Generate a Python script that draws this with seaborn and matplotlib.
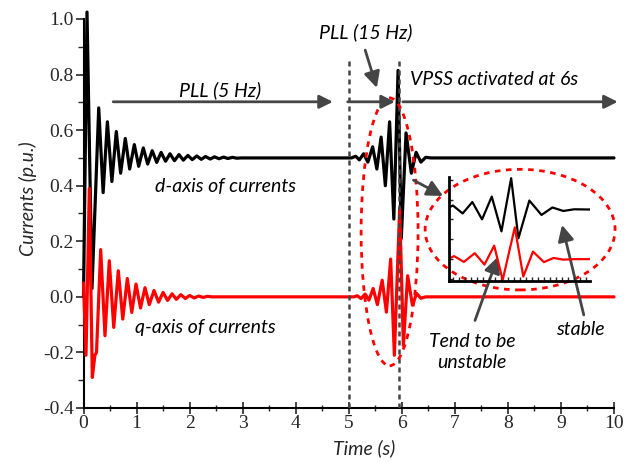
import matplotlib
matplotlib.use("Agg")
import matplotlib.pyplot as plt
import seaborn as sns
import pandas as pd
from matplotlib.patches import Ellipse
from matplotlib.ticker import MultipleLocator, FormatStrFormatter

# ---------------- data (extrema) ----------------
d_time = [0.0, 0.066, 0.16, 0.287, 0.37, 0.45, 0.535, 0.618, 0.70, 0.788, 0.87,
          0.958, 1.04, 1.127, 1.21, 1.295, 1.38, 1.463, 1.547, 1.63, 1.715, 1.80,
          1.882, 1.967, 2.05, 2.135, 2.22, 2.30, 2.39, 2.47, 2.555, 2.64, 2.72,
          2.81, 2.89, 2.97,
          5.05, 5.13, 5.20, 5.28, 5.36, 5.45, 5.53, 5.61, 5.69, 5.77, 5.85, 5.93,
          5.99, 6.08, 6.18, 6.27, 6.36, 6.45, 6.55, 10.0]
d_vals = [0.0, 1.025, 0.03, 0.68, 0.375, 0.63, 0.415, 0.595, 0.445, 0.57, 0.46,
          0.548, 0.47, 0.536, 0.478, 0.526, 0.484, 0.52, 0.488, 0.515, 0.49, 0.512,
          0.492, 0.509, 0.494, 0.507, 0.495, 0.505, 0.496, 0.504, 0.497, 0.503, 0.498,
          0.502, 0.499, 0.5,
          0.5, 0.506, 0.493, 0.515, 0.485, 0.54, 0.46, 0.575, 0.40, 0.63, 0.28, 0.815,
          0.21, 0.59, 0.445, 0.52, 0.485, 0.502, 0.5, 0.5]

q_time = [0.0, 0.047, 0.11, 0.166, 0.215, 0.245, 0.324, 0.405, 0.486, 0.57, 0.656,
          0.74, 0.826, 0.91, 0.99, 1.075, 1.159, 1.24, 1.329, 1.415, 1.50, 1.585,
          1.67, 1.75, 1.835, 1.92, 2.0, 2.085, 2.17, 2.255, 2.34, 2.42,
          5.10, 5.16, 5.23, 5.31, 5.38, 5.46, 5.54, 5.63, 5.71, 5.79, 5.86, 5.96,
          6.03, 6.11, 6.20, 6.28, 6.36, 6.45, 10.0]
q_vals = [0.05, -0.21, 0.39, -0.29, -0.21, -0.20, 0.17, -0.14, 0.13, -0.11, 0.094,
          -0.08, 0.066, -0.056, 0.046, -0.04, 0.033, -0.028, 0.023, -0.019, 0.016, -0.013,
          0.011, -0.009, 0.008, -0.006, 0.005, -0.004, 0.003, -0.002, 0.002, 0.0,
          0.0, 0.004, -0.006, 0.01, -0.012, 0.03, -0.028, 0.06, -0.055, 0.136, -0.21, 0.32,
          -0.175, 0.076, -0.03, 0.012, -0.005, 0.0, 0.0]

x_ticks = [0, 1, 2, 3, 4, 5, 6, 7, 8, 9, 10]
y_ticks = [-0.4, -0.2, 0.0, 0.2, 0.4, 0.6, 0.8, 1.0]
event_times = [5.0, 5.95]

d_df = pd.DataFrame({"Time": d_time, "Current": d_vals})
q_df = pd.DataFrame({"Time": q_time, "Current": q_vals})

# ---------------- style ----------------
sns.set_style("ticks")
plt.rcParams["font.family"] = ["Liberation Serif", "DejaVu Serif"]
plt.rcParams["axes.unicode_minus"] = False
SANS = ["Lato", "DejaVu Sans"]
GREY = "#454545"

fig = plt.figure(figsize=(6.26, 4.62), dpi=100)
ax = fig.add_axes([83.5 / 626, (462 - 408) / 462, (614 - 83.5) / 626, (408 - 19) / 462])

line_kw = dict(estimator=None, sort=False, solid_joinstyle="round",
               solid_capstyle="round")
sns.lineplot(data=d_df, x="Time", y="Current", ax=ax, color="black", lw=2.3,
             clip_on=False, zorder=3, **line_kw)
sns.lineplot(data=q_df, x="Time", y="Current", ax=ax, color="#ff0000", lw=2.3,
             clip_on=False, zorder=3, **line_kw)

ax.set_xlim(0, 10)
ax.set_ylim(-0.4, 1.0)
ax.set_xticks(x_ticks)
ax.set_yticks(y_ticks)
ax.xaxis.set_minor_locator(MultipleLocator(0.5))
ax.yaxis.set_minor_locator(MultipleLocator(0.1))
ax.yaxis.set_major_formatter(FormatStrFormatter("%.1f"))
ax.tick_params(axis="x", which="major", direction="inout", length=8, width=1.2,
               labelsize=14, pad=1)
ax.tick_params(axis="x", which="minor", direction="inout", length=5, width=1.0)
ax.tick_params(axis="y", which="major", direction="out", length=6, width=1.2,
               labelsize=14, pad=1)
ax.tick_params(axis="y", which="minor", direction="out", length=4, width=1.0)
for s in ["top", "right"]:
    ax.spines[s].set_visible(False)
for s in ["left", "bottom"]:
    ax.spines[s].set_linewidth(1.5)
    ax.spines[s].set_color("black")

ax.set_xlabel("Time (s)", family=SANS, style="italic", fontsize=14)
ax.set_ylabel("Currents (p.u.)", family=SANS, style="italic", fontsize=14)
ax.xaxis.set_label_coords((364 - 83.5) / 530.5, -0.081)
ax.yaxis.set_label_coords(-0.088, (408 - 199) / 389)

# dashed event lines
for t in event_times:
    ax.plot([t, t], [-0.4, 0.85], ls=(0, (2, 1.6)), color=GREY, lw=1.8, zorder=4)

def arrow(start, end, ms=20, lw=2.0, color=GREY):
    ax.annotate("", xy=end, xytext=start, xycoords="data",
                arrowprops=dict(arrowstyle="-|>", color=color, lw=lw,
                                mutation_scale=ms, shrinkA=0, shrinkB=0),
                annotation_clip=False, zorder=5)

# horizontal phase arrows
arrow((0.56, 0.702), (4.70, 0.702))
arrow((4.98, 0.702), (5.87, 0.702))
arrow((6.02, 0.702), (10.07, 0.702))
# PLL 15 Hz pointer
arrow((5.31, 0.888), (5.53, 0.752), ms=24)
# to inset
arrow((6.22, 0.42), (6.78, 0.363), ms=24)
# unstable / stable pointers
arrow((7.38, -0.085), (7.81, 0.144), ms=24)
arrow((9.43, -0.065), (9.02, 0.259), ms=24)

txt = dict(family=SANS, style="italic", fontsize=14, color="black")
ax.text(2.57, 0.745, "PLL (5 Hz)", ha="center", va="center", **txt)
ax.text(5.32, 0.953, "PLL (15 Hz)", ha="center", va="center", **txt)
ax.text(6.16, 0.784, "VPSS activated at 6s", ha="left", va="center", **txt)
ax.text(1.35, 0.396, "d-axis of currents", ha="left", va="center", **txt)
ax.text(0.97, -0.112, "q-axis of currents", ha="left", va="center", **txt)
ax.text(7.32, -0.198, "Tend to be\nunstable", ha="center", va="center",
        linespacing=1.25, **txt)
ax.text(9.36, -0.119, "stable", ha="center", va="center", **txt)

# red dotted ellipses
for (cx, cy, w, h) in [(5.77, 0.234, 1.074, 0.964), (8.23, 0.242, 3.58, 0.434)]:
    e = Ellipse((cx, cy), w, h, fill=False, ec="#ff0000", lw=2.0,
                ls=(0, (2, 2)), clip_on=False, zorder=4)
    ax.add_patch(e)

# inset zoom
ins = fig.add_axes([449.3 / 626, (462 - 281) / 462, 140.7 / 626, 104.3 / 462])
sns.lineplot(data=d_df, x="Time", y="Current", ax=ins, color="black", lw=1.6,
             **line_kw)
sns.lineplot(data=q_df, x="Time", y="Current", ax=ins, color="#ff0000", lw=1.6,
             **line_kw)
ins.set_xlim(5.42, 6.58)
ins.set_ylim(-0.22, 0.83)
ins.patch.set_alpha(0)
ins.set_xlabel("")
ins.set_ylabel("")
ins.xaxis.set_major_locator(MultipleLocator(0.05))
ins.yaxis.set_major_locator(MultipleLocator(0.2))
ins.tick_params(direction="in", length=3, width=1, labelbottom=False, labelleft=False)
for s in ["top", "right"]:
    ins.spines[s].set_visible(False)
for s in ["left", "bottom"]:
    ins.spines[s].set_linewidth(2)
    ins.spines[s].set_color("black")

fig.savefig("out.png", dpi=100)
